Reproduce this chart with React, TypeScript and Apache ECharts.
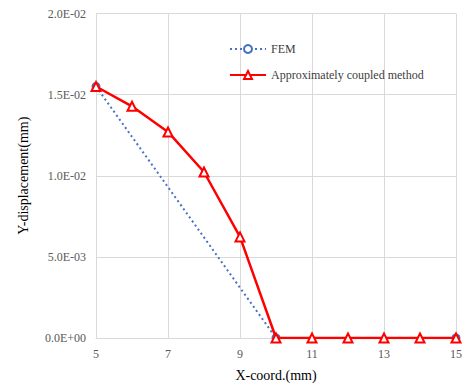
import React, { useEffect, useRef } from "react";
import * as echarts from "echarts";

const xFEM = [5, 10, 15];
const yFEM = [0.0155, 0, 0];
const xApprox = [5, 6, 7, 8, 9, 10, 11, 12, 13, 14, 15];
const yApprox = [0.0155, 0.01428, 0.0127, 0.01023, 0.00623, 0, 0, 0, 0, 0, 0];
const yTickLabels: Record<string, string> = {
  "0": "0.0E+00",
  "0.005": "5.0E-03",
  "0.01": "1.0E-02",
  "0.015": "1.5E-02",
  "0.02": "2.0E-02",
};

const FONT = "Liberation Serif";

export default function App() {
  const ref = useRef<HTMLDivElement>(null);
  useEffect(() => {
    if (!ref.current) return;
    const chart = echarts.init(ref.current, undefined, { renderer: "svg" });
    chart.setOption({
      animation: false,
      backgroundColor: "#ffffff",
      grid: { left: 96, right: 8, top: 13.5, bottom: 52, containLabel: false },
      legend: {
        orient: "vertical",
        left: 224,
        top: 38,
        itemWidth: 36,
        itemHeight: 10,
        itemGap: 14,
        textStyle: { fontFamily: FONT, fontSize: 12, color: "#404040" },
        data: ["FEM", "Approximately coupled method"],
      },
      xAxis: {
        type: "value",
        min: 5,
        max: 15,
        interval: 2,
        name: "X-coord.(mm)",
        nameLocation: "middle",
        nameGap: 30,
        nameTextStyle: { fontFamily: FONT, fontSize: 14, color: "#000000" },
        axisLine: { lineStyle: { color: "#d9d9d9", width: 1 } },
        axisTick: { show: false },
        axisLabel: { fontFamily: FONT, fontSize: 12, color: "#595959", margin: 10 },
        splitLine: { show: true, lineStyle: { color: "#d9d9d9", width: 1 } },
      },
      yAxis: {
        type: "value",
        min: 0,
        max: 0.02,
        interval: 0.005,
        name: "Y-displacement(mm)",
        nameLocation: "middle",
        nameGap: 66,
        nameTextStyle: { fontFamily: FONT, fontSize: 14, color: "#000000" },
        axisLine: { show: true, lineStyle: { color: "#d9d9d9", width: 1 } },
        axisTick: { show: false },
        axisLabel: {
          fontFamily: FONT,
          fontSize: 12,
          color: "#595959",
          margin: 10,
          formatter: (v: number) => yTickLabels[String(Math.round(v * 1000) / 1000)] ?? "",
        },
        splitLine: { show: true, lineStyle: { color: "#d9d9d9", width: 1 } },
      },
      series: [
        {
          name: "FEM",
          type: "line",
          data: xFEM.map((x, i) => [x, yFEM[i]]),
          symbol: "emptyCircle",
          symbolSize: 7,
          lineStyle: { color: "#4472C4", width: 2, type: [2, 3] },
          itemStyle: { color: "#4472C4", borderColor: "#4472C4", borderWidth: 1 },
          z: 2,
        },
        {
          name: "Approximately coupled method",
          type: "line",
          data: xApprox.map((x, i) => [x, yApprox[i]]),
          symbol: "emptyTriangle",
          symbolSize: 9,
          lineStyle: { color: "#FF0000", width: 2.5 },
          itemStyle: { color: "#FF0000", borderColor: "#FF0000", borderWidth: 1 },
          z: 3,
        },
      ],
    });
    return () => chart.dispose();
  }, []);
  return (
    <div
      ref={ref}
      style={{ position: "fixed", left: 0, top: 0, width: 465, height: 390 }}
    />
  );
}
